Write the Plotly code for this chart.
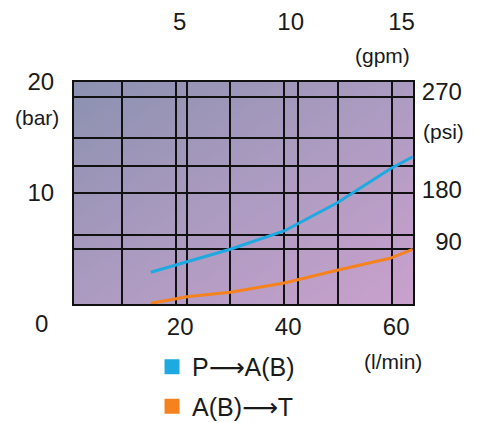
import base64
import plotly.graph_objects as go

# ---- data ----
FLOW_LPM = [15.3, 22.0, 30.0, 40.0, 50.0, 59.6, 63.8]        # l/min
P_TO_AB_BAR = [2.86, 3.80, 4.93, 6.58, 9.16, 12.16, 13.27]    # bar
AB_TO_T_BAR = [0.06, 0.66, 1.05, 1.89, 3.06, 4.12, 4.93]      # bar

SERIES_NAMES = ["P⟶A(B)", "A(B)⟶T"]
SERIES_COLORS = ["#1ea9e1", "#f5821f"]

LPM_TICKS = [20, 40, 60]
LPM_GRID = [10, 30, 50]
GPM_TICKS = [5, 10, 15]
GPM_GRID = [5.0001, 10.0001]
BAR_TICKS = [10, 20]
BAR_GRID = [5, 15]
PSI_LABELS = ["\u200790", "180", "270"]
PSI_GRID = [90, 180, 270]
PSI_PER_BAR = 14.5038

FONT = "Liberation Sans, Arial, DejaVu Sans, sans-serif"
TXT = "#1a1a1a"
GRID = "#111111"

# gradient background for the plot area (styling only)
svg = (
    '<svg xmlns="http://www.w3.org/2000/svg" width="100" height="100" preserveAspectRatio="none">'
    '<defs><linearGradient id="g" x1="0" y1="0" x2="1" y2="1">'
    '<stop offset="0" stop-color="#8c91b1"/>'
    '<stop offset="0.5" stop-color="#ac9bc0"/>'
    '<stop offset="1" stop-color="#c9a1cd"/>'
    '</linearGradient></defs>'
    '<rect width="100" height="100" fill="url(#g)"/></svg>'
)
bg_uri = "data:image/svg+xml;base64," + base64.b64encode(svg.encode()).decode()

fig = go.Figure()

for name, ys, color in zip(SERIES_NAMES, [P_TO_AB_BAR, AB_TO_T_BAR], SERIES_COLORS):
    fig.add_trace(go.Scatter(
        x=FLOW_LPM, y=ys, mode="lines", name=name, legendgroup=name,
        showlegend=False, line=dict(color=color, width=3), cliponaxis=True,
    ))
for name, color in zip(SERIES_NAMES, SERIES_COLORS):
    fig.add_trace(go.Scatter(
        x=[None], y=[None], mode="markers", name=name, legendgroup=name,
        marker=dict(symbol="square", size=15, color=color, line=dict(width=0)),
        xaxis="x2", yaxis="y2",
    ))

axis_common = dict(
    showline=True, linecolor=GRID, linewidth=2, mirror=True,
    ticks="", zeroline=False, automargin=False,
    tickfont=dict(family=FONT, size=24, color=TXT),
)

fig.update_layout(
    width=478, height=423,
    margin=dict(l=66, r=73, t=74, b=127, pad=0, autoexpand=False),
    paper_bgcolor="white", plot_bgcolor="rgba(0,0,0,0)",
    font=dict(family=FONT, color=TXT),
    xaxis=dict(
        range=[1.07, 63.86], tickvals=LPM_TICKS, ticktext=[str(v) for v in LPM_TICKS],
        showgrid=True, gridcolor=GRID, gridwidth=2,
        minor=dict(tickvals=LPM_GRID, showgrid=True, gridcolor=GRID, gridwidth=2, ticks=""),
        ticklabelstandoff=0, ticklabelshift=4,
        **axis_common,
    ),
    xaxis2=dict(
        overlaying="x", side="top", range=[-0.08, 15.2],
        tickvals=GPM_TICKS, ticktext=[str(v) for v in GPM_TICKS],
        showgrid=False,
        minor=dict(tickvals=GPM_GRID, showgrid=True, gridcolor=GRID, gridwidth=2, ticks=""),
        ticklabelstandoff=40, ticklabelshift=-7,
        **axis_common,
    ),
    yaxis=dict(
        range=[0, 20], tickvals=BAR_TICKS, ticktext=[str(v) for v in BAR_TICKS],
        showgrid=True, gridcolor=GRID, gridwidth=2,
        minor=dict(tickvals=BAR_GRID, showgrid=True, gridcolor=GRID, gridwidth=2, ticks=""),
        ticklabelstandoff=13,
        **axis_common,
    ),
    yaxis2=dict(
        overlaying="y", side="right", range=[0, 20],
        tickvals=[5.61, 10.27, 19.13], ticktext=PSI_LABELS,
        showgrid=False,
        minor=dict(tickvals=[v / PSI_PER_BAR for v in PSI_GRID], showgrid=True,
                   gridcolor=GRID, gridwidth=2, ticks=""),
        ticklabelstandoff=2,
        **axis_common,
    ),
    legend=dict(
        xref="container", yref="container",
        x=0.3013, xanchor="left", y=0.2057, yanchor="top",
        font=dict(family=FONT, size=25, color=TXT),
        bgcolor="rgba(0,0,0,0)", borderwidth=0, tracegroupgap=4,
        itemclick=False, itemdoubleclick=False,
    ),
    showlegend=True,
    images=[dict(
        source=bg_uri, xref="paper", yref="paper", x=0, y=1, sizex=1, sizey=1,
        xanchor="left", yanchor="top", sizing="stretch", layer="below",
    )],
)

unit_font = dict(family=FONT, size=21, color=TXT)
for text, x, y in [("(gpm)", 0.9086, 1.1216), ("(bar)", -0.109, 0.838),
                   ("(psi)", 1.0885, 0.775), ("(l/min)", 0.941, -0.261)]:
    fig.add_annotation(text=text, x=x, y=y, xref="paper", yref="paper",
                       xanchor="center", yanchor="middle", showarrow=False, font=unit_font)
fig.add_annotation(text="0", x=-0.0944, y=-0.0856, xref="paper", yref="paper",
                   xanchor="center", yanchor="middle", showarrow=False,
                   font=dict(family=FONT, size=24, color=TXT))

fig.write_html("out.html")
